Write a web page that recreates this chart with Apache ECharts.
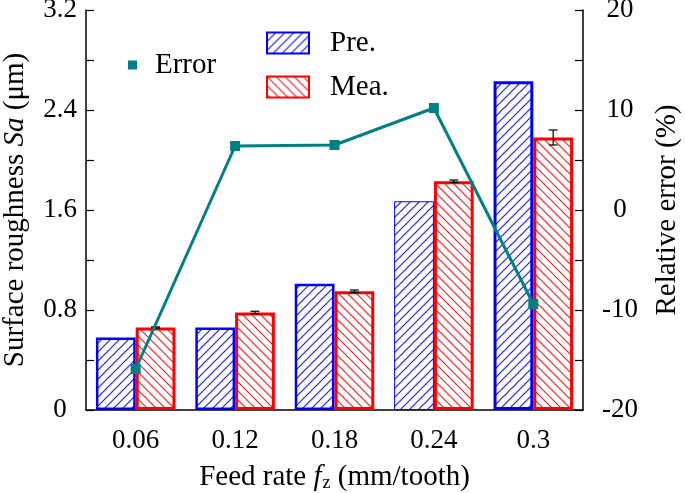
<!DOCTYPE html>
<html><head><meta charset="utf-8">
<script src="https://cdn.jsdelivr.net/npm/echarts@6/dist/echarts.min.js"></script>
<style>html,body{margin:0;padding:0;background:#fff}#c{width:685px;height:493px}</style>
</head><body><div id="c"></div>
<script>
const categories = ['0.06', '0.12', '0.18', '0.24', '0.3'];
const preValues = [0.58, 0.66, 1.01, 1.67, 2.63];
const meaValues = [0.66, 0.78, 0.95, 1.83, 2.18];
const meaErrors = [0.005, 0.01, 0.01, 0.01, 0.06];
const errorValues = [-15.9, 6.4, 6.5, 10.2, -9.4];
const leftTicks = [0, 0.8, 1.6, 2.4, 3.2];
const rightTicks = [-20, -10, 0, 10, 20];

function hatch(color, dir) {
  const s = 9, c = document.createElement('canvas');
  c.width = s; c.height = s;
  const g = c.getContext('2d');
  g.fillStyle = '#fff'; g.fillRect(0, 0, s, s);
  g.strokeStyle = color; g.lineWidth = 1.2;
  g.beginPath();
  if (dir > 0) {
    g.moveTo(-1, s + 1); g.lineTo(s + 1, -1);
    g.moveTo(-1, 1); g.lineTo(1, -1);
    g.moveTo(s - 1, s + 1); g.lineTo(s + 1, s - 1);
  } else {
    g.moveTo(-1, -1); g.lineTo(s + 1, s + 1);
    g.moveTo(s - 1, -1); g.lineTo(s + 1, 1);
    g.moveTo(-1, s - 1); g.lineTo(1, s + 1);
  }
  g.stroke();
  return { image: c, repeat: 'repeat' };
}

const font = '"Liberation Serif", "Times New Roman", serif';
const chart = echarts.init(document.getElementById('c'));
const preBorder = [2.5, 2.5, 2.5, 1, 3];

chart.setOption({
  animation: false,
  textStyle: { fontFamily: font, color: '#000' },
  grid: { left: 86, right: 102, top: 10, bottom: 83, outerBoundsMode: 'none', containLabel: false },
  legend: [
    { data: [{ name: 'Error', icon: 'rect' }], left: 123, top: 45, itemWidth: 9, itemHeight: 9, itemGap: 0,
      textStyle: { fontFamily: font, fontSize: 29, lineHeight: 30, color: '#000', padding: [0, 0, 0, 13] } },
    { data: [{ name: 'Pre.', icon: 'rect' }, { name: 'Mea.', icon: 'rect' }], orient: 'vertical', left: 261, top: 23,
      itemWidth: 42, itemHeight: 21, itemGap: 14,
      textStyle: { fontFamily: font, fontSize: 29, lineHeight: 30, color: '#000', padding: [0, 0, 0, 16] } }
  ],
  xAxis: {
    type: 'category', data: categories,
    name: '{a|Feed rate }{i|f}{s|z}{a| (mm/tooth)}', nameLocation: 'middle', nameGap: 53,
    nameTextStyle: { rich: {
      a: { fontFamily: font, fontSize: 29, color: '#000' },
      i: { fontFamily: font, fontSize: 29, fontStyle: 'italic', color: '#000' },
      s: { fontFamily: font, fontSize: 18, color: '#000', verticalAlign: 'bottom', padding: [10, 0, 0, 1] }
    } },
    axisLine: { lineStyle: { color: '#000', width: 1.5 } },
    axisTick: { show: false },
    axisLabel: { fontFamily: font, fontSize: 27, color: '#000', margin: 17 }
  },
  yAxis: [
    { type: 'value', min: 0, max: 3.2, interval: 0.8, position: 'left',
      name: '{a|Surface roughness }{i|Sa}{a| (μm)}', nameLocation: 'middle', nameGap: 56, nameRotate: 90,
      nameTextStyle: { rich: {
        a: { fontFamily: font, fontSize: 29, color: '#000' },
        i: { fontFamily: font, fontSize: 29, fontStyle: 'italic', color: '#000' }
      } },
      axisLine: { show: true, lineStyle: { color: '#000', width: 1.5 } },
      axisTick: { show: true, inside: true, length: 8, lineStyle: { color: '#000', width: 1.2 } },
      minorTick: { show: true, splitNumber: 2, length: 8, lineStyle: { color: '#000', width: 1.2 } },
      splitLine: { show: false },
      axisLabel: { fontFamily: font, fontSize: 27, color: '#000', margin: 26, align: 'center',
        formatter: v => { const i = leftTicks.findIndex(t => Math.abs(t - v) < 1e-6); return i === 0 ? '0' : leftTicks[i].toFixed(1); } }
    },
    { type: 'value', min: -20, max: 20, interval: 10, position: 'right',
      name: 'Relative error (%)', nameLocation: 'middle', nameGap: 70, nameRotate: 90,
      nameTextStyle: { fontFamily: font, fontSize: 29, color: '#000' },
      axisLine: { show: true, lineStyle: { color: '#000', width: 1.5 } },
      axisTick: { show: true, inside: true, length: 8, lineStyle: { color: '#000', width: 1.2 } },
      minorTick: { show: true, splitNumber: 2, length: 8, lineStyle: { color: '#000', width: 1.2 } },
      splitLine: { show: false },
      axisLabel: { fontFamily: font, fontSize: 27, color: '#000', margin: 37, align: 'center',
        formatter: v => String(rightTicks[rightTicks.findIndex(t => Math.abs(t - v) < 1e-6)]) }
    }
  ],
  series: [
    { name: 'Pre.', type: 'bar', yAxisIndex: 0, barGap: '0%', barCategoryGap: '20%',
      data: preValues.map((v, i) => ({ value: v, itemStyle: { borderWidth: preBorder[i] } })),
      itemStyle: { color: hatch('#1f1fff', 1), borderColor: '#0000ff', borderWidth: 2.5 } },
    { name: 'Mea.', type: 'bar', yAxisIndex: 0,
      data: meaValues,
      itemStyle: { color: hatch('#ff2020', -1), borderColor: '#ff0000', borderWidth: 3 } },
    { name: 'MeaErr', type: 'custom', yAxisIndex: 0, z: 5,
      data: meaValues.map((v, i) => [i, v - meaErrors[i], v + meaErrors[i]]),
      renderItem: (params, api) => {
        const i = api.value(0);
        const w = api.size([1, 0])[0];
        const lo = api.coord([i, api.value(1)]);
        const hi = api.coord([i, api.value(2)]);
        const x = lo[0] + w * 0.2;
        const cap = 4.5;
        const st = { stroke: '#000', lineWidth: 1.2 };
        return { type: 'group', children: [
          { type: 'line', shape: { x1: x, y1: lo[1], x2: x, y2: hi[1] }, style: st },
          { type: 'line', shape: { x1: x - cap, y1: lo[1], x2: x + cap, y2: lo[1] }, style: st },
          { type: 'line', shape: { x1: x - cap, y1: hi[1], x2: x + cap, y2: hi[1] }, style: st }
        ] };
      }
    },
    { name: 'Error', type: 'line', yAxisIndex: 1, z: 10, data: errorValues,
      symbol: 'rect', symbolSize: 10,
      lineStyle: { color: '#008080', width: 3 }, itemStyle: { color: '#008080' } }
  ]
});
</script></body></html>
